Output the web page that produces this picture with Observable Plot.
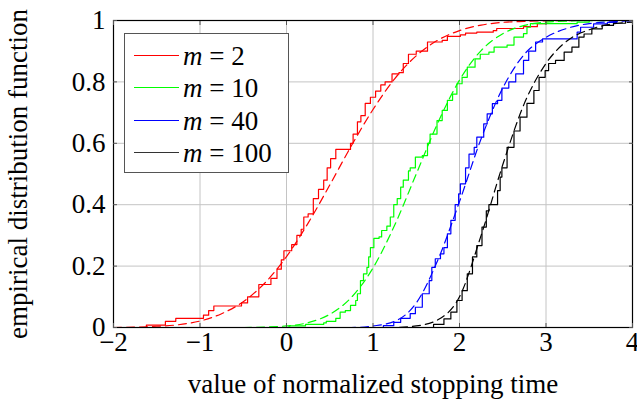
<!DOCTYPE html>
<html>
<head>
<meta charset="utf-8">
<script src="https://cdn.jsdelivr.net/npm/d3@7"></script>
<script src="https://cdn.jsdelivr.net/npm/@observablehq/plot@0.6"></script>
<style>
html, body { margin: 0; padding: 0; background: #fff; }
#wrap { position: relative; width: 637px; height: 400px; font-family: "Liberation Serif", "DejaVu Serif", serif; }
#chart svg, #chart svg text { font-family: "Liberation Serif", "DejaVu Serif", serif; }
#legend { position: absolute; left: 124px; top: 33px; width: 163px; height: 138px; border: 1px solid #555; background: #fff; }
.entry { position: absolute; left: 0; height: 32px; width: 160px; font-family: "Liberation Serif", "DejaVu Serif", serif; font-size: 27px; line-height: 32px; color: #000; }
.entry i { font-family: "Liberation Serif", "DejaVu Serif", serif; font-style: italic; }
.swatch { position: absolute; left: 9px; top: 15px; width: 45px; height: 0; border-top: 1.3px solid; }
.lab { position: absolute; left: 58px; top: 0; white-space: pre; }
</style>
</head>
<body>
<div id="wrap"><div id="chart"></div><div id="legend"></div></div>
<script>
// ---- tick values / labels ----
const xTicks = [-2, -1, 0, 1, 2, 3, 4];
const yTicks = [0, 0.2, 0.4, 0.6, 0.8, 1];
const yTickLabels = ["0", "0.2", "0.4", "0.6", "0.8", "1"];

// ---- series ----
const seriesNames = ["2", "10", "40", "100"];
const seriesColors = ["#ff0000", "#00ff00", "#0000ff", "#000000"];

// empirical distribution (step) m = 2
const ecdf2X = [-2, -1.62, -1.4, -1.28, -0.96, -0.9, -0.84, -0.52, -0.45, -0.32, -0.18, -0.11, -0.06, -0.03, 0.06, 0.12, 0.17, 0.2, 0.25, 0.31, 0.37, 0.43, 0.47, 0.51, 0.57, 0.74, 0.77, 0.82, 0.86, 0.91, 0.97, 1.03, 1.09, 1.14, 1.22, 1.3, 1.35, 1.41, 1.5, 1.63, 1.8, 1.86, 2.01, 2.07, 2.2, 2.39, 2.43, 2.74, 2.9, 3.0, 4];
const ecdf2Y = [0, 0.008, 0.02, 0.03, 0.04, 0.055, 0.07, 0.08, 0.1, 0.14, 0.16, 0.19, 0.22, 0.25, 0.27, 0.3, 0.32, 0.36, 0.37, 0.42, 0.45, 0.48, 0.52, 0.55, 0.58, 0.6, 0.63, 0.67, 0.69, 0.73, 0.75, 0.77, 0.79, 0.8, 0.826, 0.83, 0.86, 0.89, 0.9, 0.93, 0.935, 0.948, 0.953, 0.959, 0.962, 0.967, 0.974, 0.98, 0.99, 1, 1];
// empirical distribution m = 10
const ecdf10X = [-2, 0.03, 0.22, 0.43, 0.46, 0.57, 0.62, 0.68, 0.74, 0.8, 0.82, 0.855, 0.89, 0.93, 0.95, 0.97, 1.01, 1.07, 1.1, 1.16, 1.2, 1.24, 1.28, 1.32, 1.35, 1.41, 1.43, 1.49, 1.57, 1.63, 1.66, 1.74, 1.8, 1.86, 1.92, 1.97, 2.03, 2.09, 2.18, 2.24, 2.34, 2.4, 2.55, 2.63, 2.74, 2.78, 2.82, 3.36, 3.5, 4];
const ecdf10Y = [0, 0.005, 0.01, 0.015, 0.02, 0.03, 0.05, 0.055, 0.072, 0.088, 0.11, 0.153, 0.175, 0.196, 0.23, 0.26, 0.29, 0.295, 0.316, 0.33, 0.36, 0.4, 0.42, 0.457, 0.48, 0.51, 0.52, 0.555, 0.56, 0.6, 0.63, 0.674, 0.707, 0.74, 0.76, 0.794, 0.815, 0.848, 0.875, 0.89, 0.897, 0.913, 0.92, 0.946, 0.957, 0.978, 0.99, 0.995, 1, 1];
// empirical distribution m = 40
const ecdf40X = [-2, 1.12, 1.24, 1.32, 1.43, 1.49, 1.57, 1.65, 1.68, 1.72, 1.78, 1.82, 1.86, 1.9, 1.95, 1.99, 2.01, 2.07, 2.11, 2.17, 2.2, 2.28, 2.32, 2.38, 2.44, 2.49, 2.57, 2.65, 2.74, 2.8, 2.88, 2.96, 3.36, 3.4, 3.55, 3.71, 3.82, 4];
const ecdf40Y = [0, 0.006, 0.017, 0.03, 0.045, 0.066, 0.11, 0.153, 0.196, 0.224, 0.24, 0.26, 0.305, 0.349, 0.4, 0.435, 0.468, 0.52, 0.565, 0.587, 0.62, 0.663, 0.696, 0.729, 0.74, 0.78, 0.8, 0.826, 0.87, 0.9, 0.93, 0.94, 0.962, 0.978, 0.989, 0.994, 1, 1];
// empirical distribution m = 100
const ecdf100X = [-2, 1.7, 1.82, 1.9, 1.97, 2.03, 2.09, 2.15, 2.2, 2.26, 2.31, 2.34, 2.44, 2.47, 2.49, 2.55, 2.63, 2.7, 2.78, 2.86, 2.92, 2.99, 3.03, 3.11, 3.21, 3.3, 3.38, 3.44, 3.53, 3.65, 3.78, 3.92, 4];
const ecdf100Y = [0, 0.01, 0.028, 0.05, 0.088, 0.12, 0.175, 0.23, 0.267, 0.327, 0.38, 0.4, 0.446, 0.49, 0.52, 0.587, 0.64, 0.685, 0.73, 0.772, 0.815, 0.837, 0.86, 0.87, 0.897, 0.913, 0.946, 0.956, 0.973, 0.984, 0.991, 1, 1];

// limiting distributions (dashed)
const limit2X = [-2, -1.75, -1.5, -1.25, -1, -0.75, -0.5, -0.25, 0, 0.25, 0.5, 0.75, 1, 1.25, 1.5, 1.75, 2, 2.25, 2.5, 2.75, 3, 3.5, 4];
const limit2Y = [0, 0.001, 0.004, 0.009, 0.021, 0.045, 0.084, 0.145, 0.231, 0.34, 0.464, 0.592, 0.71, 0.81, 0.885, 0.936, 0.967, 0.985, 0.994, 0.997, 0.999, 1, 1];
const limit10X = [-2, -0.5, 0, 0.25, 0.5, 0.75, 1, 1.25, 1.5, 1.75, 2, 2.25, 2.5, 2.75, 3, 3.25, 3.5, 4];
const limit10Y = [0, 0, 0.005, 0.016, 0.043, 0.098, 0.194, 0.333, 0.5, 0.667, 0.806, 0.902, 0.957, 0.984, 0.995, 0.998, 0.9997, 1];
const limit40X = [-2, 0.75, 1, 1.25, 1.5, 1.75, 2, 2.25, 2.5, 2.75, 3, 3.25, 3.5, 3.75, 4];
const limit40Y = [0, 0, 0.005, 0.02, 0.08, 0.22, 0.41, 0.615, 0.78, 0.89, 0.945, 0.975, 0.99, 0.996, 0.999];
const limit100X = [-2, 1.25, 1.5, 1.75, 2, 2.25, 2.5, 2.75, 3, 3.25, 3.5, 3.75, 4];
const limit100Y = [0, 0, 0.005, 0.025, 0.1, 0.3, 0.53, 0.73, 0.86, 0.935, 0.97, 0.988, 0.995];

const ecdfXs = [ecdf2X, ecdf10X, ecdf40X, ecdf100X];
const ecdfYs = [ecdf2Y, ecdf10Y, ecdf40Y, ecdf100Y];
const limitXs = [limit2X, limit10X, limit40X, limit100X];
const limitYs = [limit2Y, limit10Y, limit40Y, limit100Y];

const rows = (xs, ys, s) => xs.map((x, i) => ({x, y: ys[i], s}));
const ecdfRows = seriesNames.flatMap((s, i) => rows(ecdfXs[i], ecdfYs[i], s));
const limitRows = seriesNames.flatMap((s, i) => rows(limitXs[i], limitYs[i], s));
const colorOf = Object.fromEntries(seriesNames.map((s, i) => [s, seriesColors[i]]));

const fmtX = d => d < 0 ? "\u2212" + (-d) : String(d);
const fmtY = d => yTickLabels[yTicks.indexOf(d)];

const marks = [
  Plot.gridX(xTicks, {stroke: "#c4c4c4", strokeOpacity: 1}),
  Plot.gridY(yTicks, {stroke: "#c4c4c4", strokeOpacity: 1})
];
seriesNames.forEach(s => {
  marks.push(Plot.line(ecdfRows.filter(d => d.s === s), {x: "x", y: "y", curve: "step-after", stroke: colorOf[s], strokeWidth: 1.2}));
  marks.push(Plot.line(limitRows.filter(d => d.s === s), {x: "x", y: "y", curve: "monotone-x", stroke: colorOf[s], strokeWidth: 1.2, strokeDasharray: "8,5"}));
});
marks.push(
  Plot.frame({stroke: "black", strokeWidth: 1.2}),
  Plot.axisX(xTicks, {tickSize: -4, tickPadding: 8, tickFormat: fmtX, stroke: "#555", label: "value of normalized stopping time", labelAnchor: "center", labelOffset: 65, labelArrow: "none"}),
  Plot.axisX(xTicks, {anchor: "top", tickSize: -4, tickFormat: () => "", stroke: "#555", label: null}),
  Plot.axisY(yTicks, {tickSize: -4, tickPadding: 12, tickFormat: fmtY, stroke: "#555", label: "empirical distribution function", labelAnchor: "center", labelOffset: 106, labelArrow: "none"}),
  Plot.axisY(yTicks, {anchor: "right", tickSize: -4, tickFormat: () => "", stroke: "#555", label: null})
);

const chart = Plot.plot({
  width: 637, height: 400,
  marginLeft: 113, marginRight: 5, marginTop: 20, marginBottom: 73,
  x: {domain: [-2, 4]},
  y: {domain: [0, 1]},
  style: {fontFamily: "'Liberation Serif', 'DejaVu Serif', serif", fontSize: "27px", color: "black", background: "white", overflow: "visible"},
  marks
});
document.getElementById("chart").appendChild(chart);

// legend
const legend = document.getElementById("legend");
seriesNames.forEach((s, i) => {
  const e = document.createElement("div");
  e.className = "entry";
  e.style.top = (6 + i * 32.3) + "px";
  const sw = document.createElement("div");
  sw.className = "swatch";
  sw.style.borderTopColor = seriesColors[i] === "#000000" ? "#333" : seriesColors[i];
  const lab = document.createElement("div");
  lab.className = "lab";
  lab.innerHTML = "<i>m</i> = " + s;
  e.appendChild(sw); e.appendChild(lab);
  legend.appendChild(e);
});
</script>
</body>
</html>
